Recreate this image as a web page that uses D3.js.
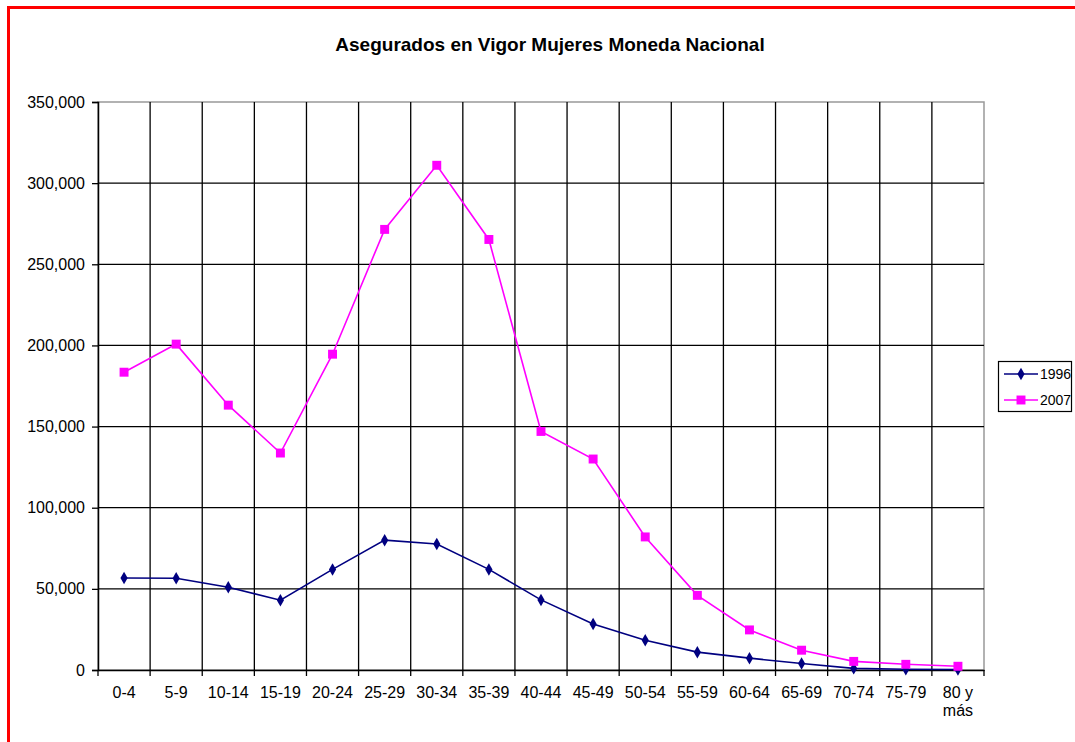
<!DOCTYPE html>
<html>
<head>
<meta charset="utf-8">
<script src="https://cdn.jsdelivr.net/npm/d3@7"></script>
<style>
  html, body { margin: 0; padding: 0; background: #fff; }
  svg { display: block; font-family: "Liberation Sans", Arial, sans-serif; }
</style>
</head>
<body>
<div id="chart"></div>
<script>
// age groups and insured women per group
const categories = ['0-4', '5-9', '10-14', '15-19', '20-24', '25-29', '30-34', '35-39', '40-44',
  '45-49', '50-54', '55-59', '60-64', '65-69', '70-74', '75-79', '80 y\nmás'];
const values1996 = [56700, 56500, 51000, 43000, 62000, 80000, 77600, 62000, 43200,
  28300, 18300, 11000, 7300, 4000, 1000, 500, 300];
const values2007 = [183500, 200800, 163200, 133700, 194600, 271500, 311000, 265300, 147000,
  130000, 82000, 46000, 24700, 12200, 5300, 3500, 2300];
const yTicks = [0, 50000, 100000, 150000, 200000, 250000, 300000, 350000];
const series = [
  { name: '1996', values: values1996, color: '#000080', symbol: d3.symbolDiamond, size: 45 },
  { name: '2007', values: values2007, color: '#ff00ff', symbol: d3.symbolSquare, size: 80 }
];

const width = 1075, height = 742;
const plot = { left: 98, right: 984, top: 102, bottom: 670 };

const svg = d3.select('#chart').append('svg')
  .attr('width', width)
  .attr('height', height);

// red frame
svg.append('rect')
  .attr('x', 8.5).attr('y', 7.5)
  .attr('width', width + 20).attr('height', height + 20)
  .attr('fill', 'none')
  .attr('stroke', '#ff0000')
  .attr('stroke-width', 3);

svg.append('text')
  .attr('x', 550).attr('y', 51)
  .attr('text-anchor', 'middle')
  .style('font-size', '19px')
  .style('font-weight', 'bold')
  .text('Asegurados en Vigor Mujeres Moneda Nacional');

const x = d3.scaleBand()
  .domain(categories)
  .range([plot.left, plot.right]);

const y = d3.scaleLinear()
  .domain([0, 350000])
  .range([plot.bottom, plot.top]);

// plot frame
svg.append('rect')
  .attr('x', plot.left).attr('y', plot.top)
  .attr('width', plot.right - plot.left).attr('height', plot.bottom - plot.top)
  .attr('fill', 'none')
  .attr('stroke', '#999')
  .attr('stroke-width', 1.5);

// grid
svg.append('g')
  .selectAll('line')
  .data(yTicks.slice(1, -1))
  .enter().append('line')
  .attr('x1', plot.left).attr('x2', plot.right)
  .attr('y1', d => y(d)).attr('y2', d => y(d))
  .attr('stroke', '#000').attr('stroke-width', 1.3);

svg.append('g')
  .selectAll('line')
  .data(categories.slice(1))
  .enter().append('line')
  .attr('x1', d => x(d)).attr('x2', d => x(d))
  .attr('y1', plot.top).attr('y2', plot.bottom)
  .attr('stroke', '#000').attr('stroke-width', 1.3);

// y axis
const yAxis = svg.append('g')
  .attr('transform', `translate(${plot.left},0)`)
  .call(d3.axisLeft(y).tickValues(yTicks).tickFormat(d3.format(',')).tickSize(6).tickPadding(7));
yAxis.select('.domain').attr('stroke', '#000').attr('stroke-width', 1.5);
yAxis.selectAll('.tick line').attr('stroke-width', 1.3);
yAxis.selectAll('text')
  .style('font-size', '16px')
  .style('font-family', '"Liberation Sans", Arial, sans-serif')
  .attr('fill', '#000');

// x axis, ticks on category boundaries
const xAxis = svg.append('g')
  .attr('transform', `translate(0,${plot.bottom})`)
  .call(d3.axisBottom(x).tickSize(0).tickPadding(18));
xAxis.select('.domain').attr('stroke', '#000').attr('stroke-width', 1.5);
xAxis.selectAll('.tick text').remove();
xAxis.selectAll('line.bound')
  .data(categories.concat(['end']))
  .enter().append('line')
  .attr('class', 'bound')
  .attr('x1', (d, i) => i < categories.length ? x(d) : plot.right)
  .attr('x2', (d, i) => i < categories.length ? x(d) : plot.right)
  .attr('y1', 0).attr('y2', 6)
  .attr('stroke', '#000').attr('stroke-width', 1.3);

const labels = svg.append('g')
  .selectAll('text')
  .data(categories)
  .enter().append('text')
  .attr('x', d => x(d) + x.bandwidth() / 2)
  .attr('y', plot.bottom + 28)
  .attr('text-anchor', 'middle')
  .style('font-size', '16px');
labels.each(function(d) {
  const parts = d.split('\n');
  d3.select(this).selectAll('tspan')
    .data(parts)
    .enter().append('tspan')
    .attr('x', x(d) + x.bandwidth() / 2)
    .attr('dy', (p, i) => i === 0 ? 0 : 18)
    .text(p => p);
});

// lines and markers
const line = d3.line()
  .x((d, i) => x(categories[i]) + x.bandwidth() / 2)
  .y(d => y(d));

series.forEach(s => {
  svg.append('path')
    .datum(s.values)
    .attr('d', line)
    .attr('fill', 'none')
    .attr('stroke', s.color)
    .attr('stroke-width', 1.6);

  svg.append('g')
    .selectAll('path')
    .data(s.values)
    .enter().append('path')
    .attr('transform', (d, i) => `translate(${x(categories[i]) + x.bandwidth() / 2},${y(d)})`)
    .attr('d', d3.symbol().type(s.symbol).size(s.size))
    .attr('fill', s.color);
});

// legend
const legend = svg.append('g');
legend.append('rect')
  .attr('x', 998.5).attr('y', 361.5)
  .attr('width', 73).attr('height', 50)
  .attr('fill', '#fff')
  .attr('stroke', '#000')
  .attr('stroke-width', 1.2);

series.forEach((s, i) => {
  const ly = 374 + i * 26;
  legend.append('line')
    .attr('x1', 1004).attr('x2', 1038)
    .attr('y1', ly).attr('y2', ly)
    .attr('stroke', s.color).attr('stroke-width', 1.6);
  legend.append('path')
    .attr('transform', `translate(1021,${ly})`)
    .attr('d', d3.symbol().type(s.symbol).size(s.size))
    .attr('fill', s.color);
  legend.append('text')
    .attr('x', 1040).attr('y', ly + 5)
    .style('font-size', '14px')
    .text(s.name);
});
</script>
</body>
</html>
